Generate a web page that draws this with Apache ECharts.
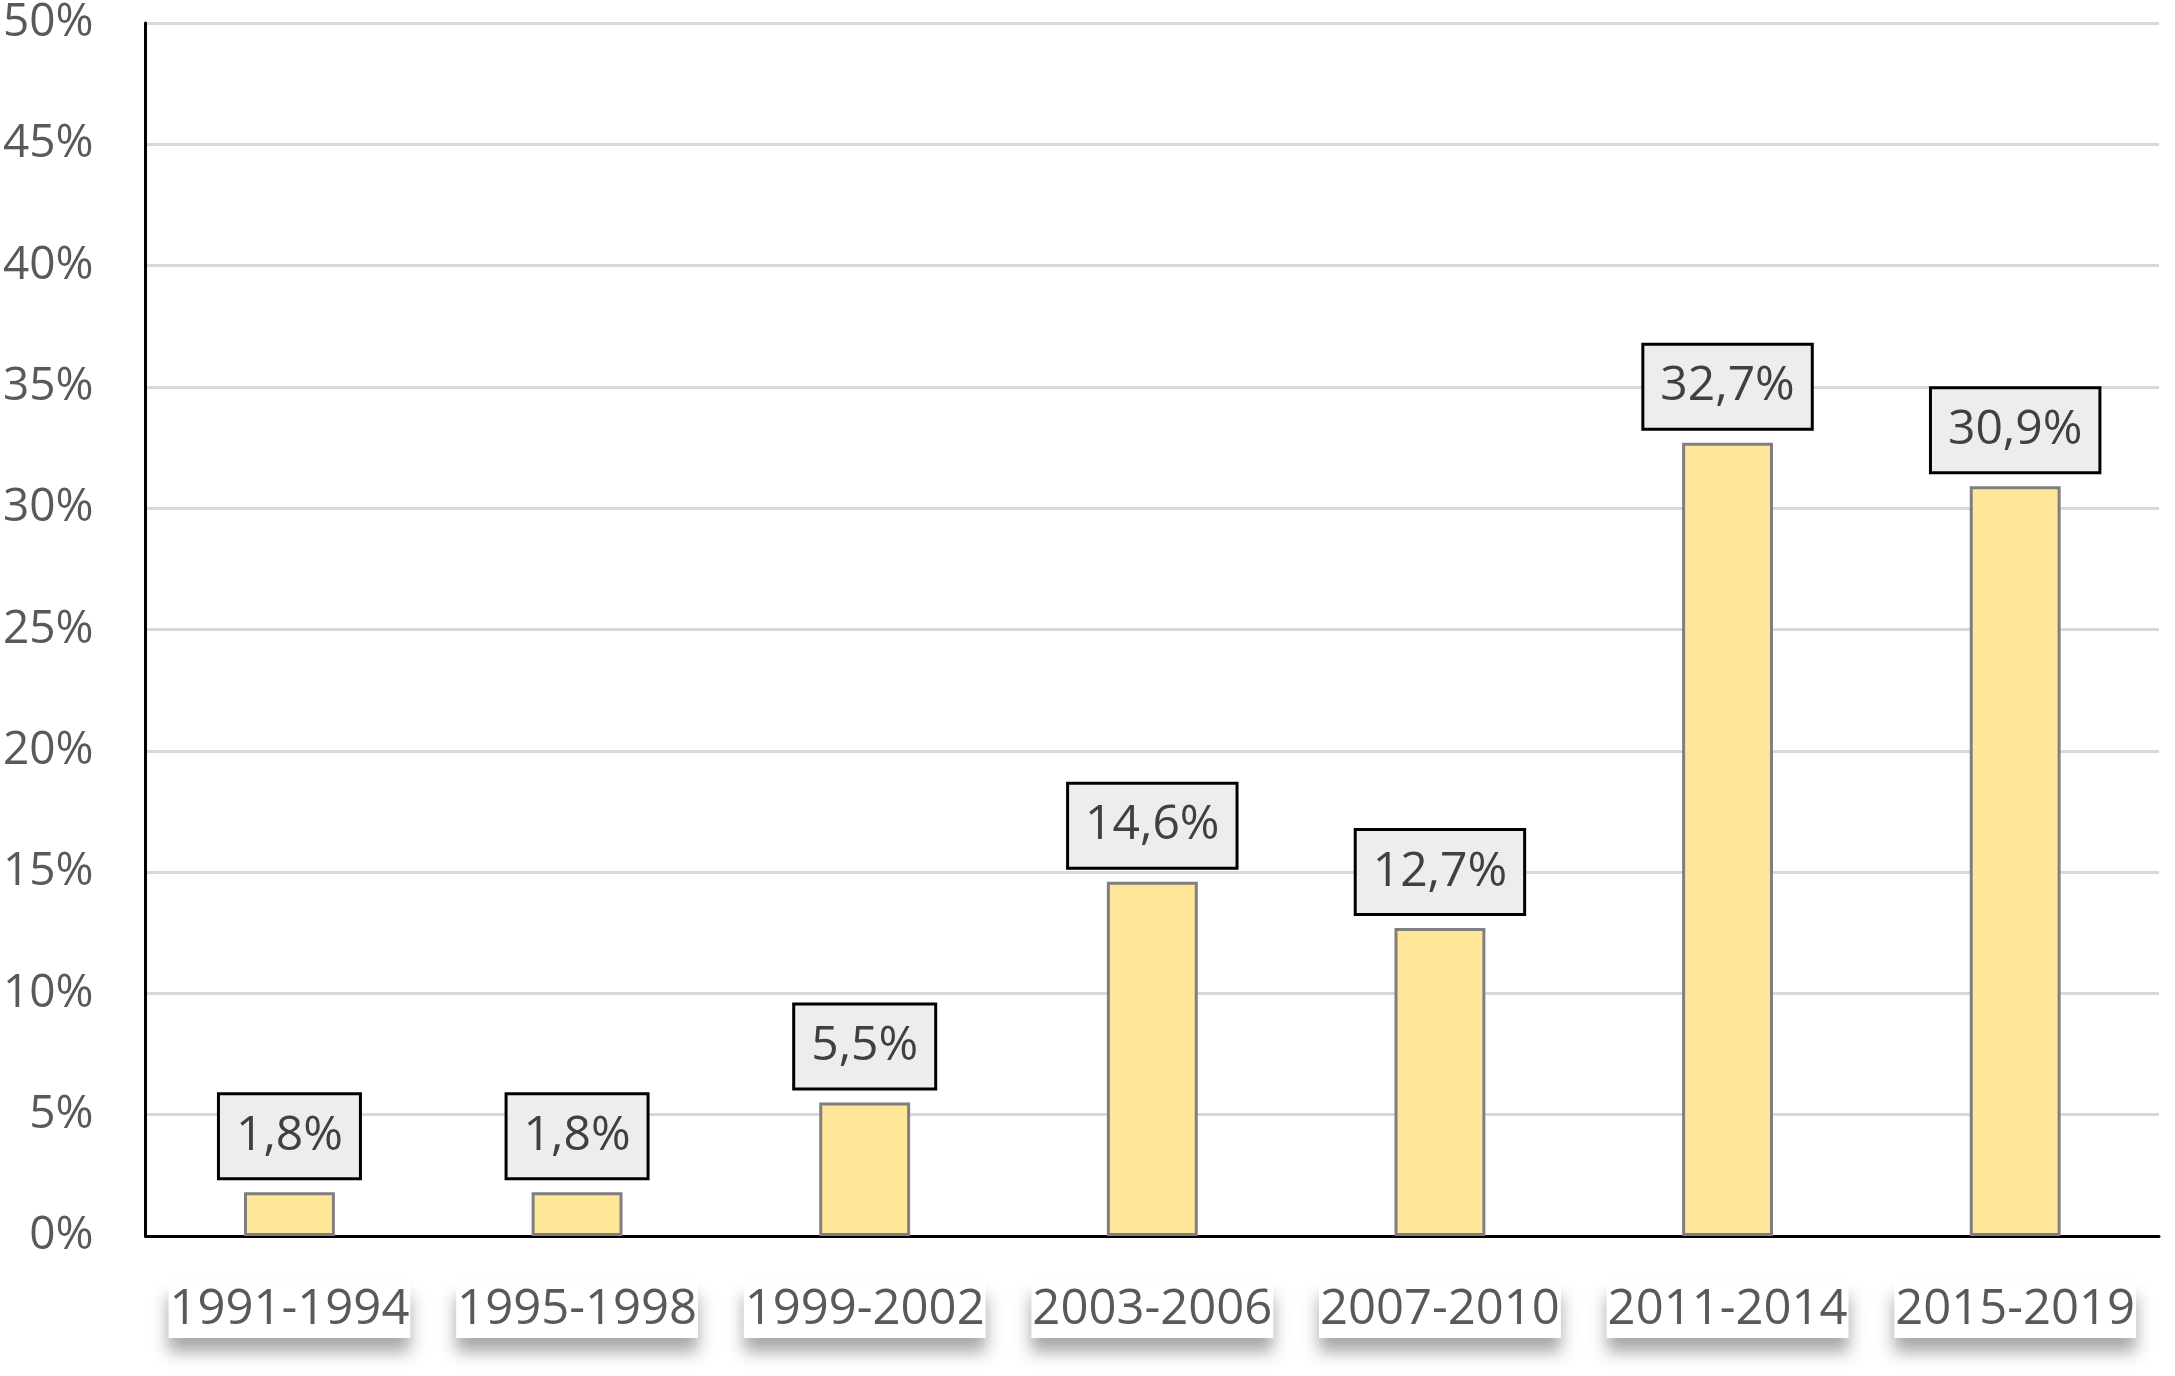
<!DOCTYPE html>
<html>
<head>
<meta charset="utf-8">
<script src="https://cdn.jsdelivr.net/npm/echarts@6/dist/echarts.min.js"></script>
<style>
html,body{margin:0;padding:0;background:#fff;}
#chart{width:2175px;height:1376px;}
</style>
</head>
<body>
<div id="chart"></div>
<script>
var categories = ['1991-1994','1995-1998','1999-2002','2003-2006','2007-2010','2011-2014','2015-2019'];
var values = [1.8, 1.8, 5.5, 14.6, 12.7, 32.7, 30.9];
var yTicks = [0, 5, 10, 15, 20, 25, 30, 35, 40, 45, 50];

var chart = echarts.init(document.getElementById('chart'), null, {renderer:'canvas'});
var font = '"Open Sans", "Noto Sans", sans-serif';
chart.setOption({
  animation: false,
  backgroundColor: '#ffffff',
  grid: {left: 144, top: 23, right: 16, bottom: 140, containLabel: false},
  xAxis: {
    type: 'category',
    data: categories,
    axisLine: {lineStyle: {color: '#000000', width: 3}},
    axisTick: {show: false},
    axisLabel: {
      interval: 0,
      fontFamily: font, fontSize: 49, color: '#595959',
      margin: 46, lineHeight: 56, padding: [0, 1, 0, 1],
      backgroundColor: '#ffffff',
      shadowColor: 'rgba(0,0,0,0.35)', shadowBlur: 16, shadowOffsetY: 14
    }
  },
  yAxis: {
    type: 'value',
    min: yTicks[0], max: yTicks[yTicks.length-1], interval: 5,
    axisLine: {show: true, lineStyle: {color: '#000000', width: 3}},
    axisTick: {show: false},
    splitLine: {lineStyle: {color: '#d9d9d9', width: 3}},
    axisLabel: {
      fontFamily: font, fontSize: 46, color: '#595959', margin: 52,
      formatter: function(v){ return v + '%'; }
    }
  },
  series: [{
    type: 'bar',
    data: values,
    barWidth: '31.6%',
    itemStyle: {color: '#FFE699', borderColor: '#7f7f7f', borderWidth: 3},
    label: {
      show: true, position: 'top', distance: 15,
      fontFamily: font, fontSize: 48, color: '#404040',
      backgroundColor: '#EDEDED', borderColor: '#000000', borderWidth: 3,
      padding: [14, 16, 14, 16], lineHeight: 54,
      formatter: function(p){ return String(p.value).replace('.', ',') + '%'; }
    }
  }]
});
</script>
</body>
</html>
